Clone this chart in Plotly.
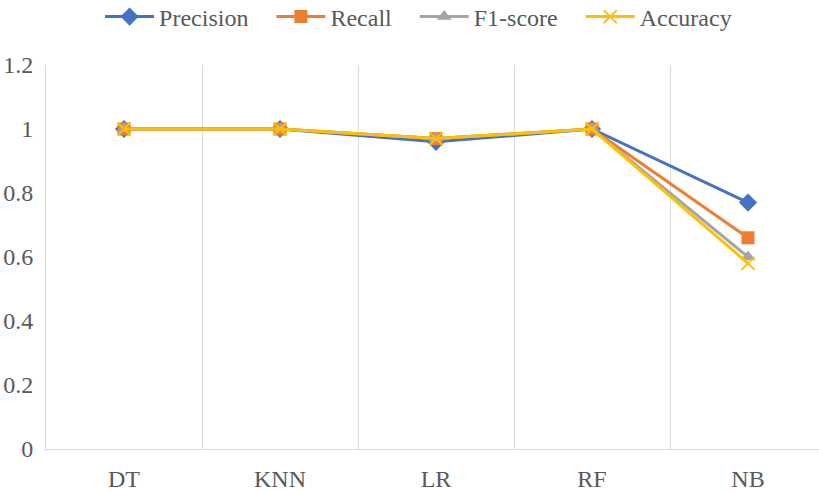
import plotly.graph_objects as go

# Model comparison metrics
models = ["DT", "KNN", "LR", "RF", "NB"]
precision = [1.0, 1.0, 0.96, 1.0, 0.77]
recall = [1.0, 1.0, 0.97, 1.0, 0.66]
f1_score = [1.0, 1.0, 0.97, 1.0, 0.60]
accuracy = [1.0, 1.0, 0.97, 1.0, 0.58]

y_ticks = [0, 0.2, 0.4, 0.6, 0.8, 1.0, 1.2]
y_tick_text = ["0", "0.2", "0.4", "0.6", "0.8", "1", "1.2"]

xpos = list(range(len(models)))
font_family = "Liberation Serif, Times New Roman, serif"
text_color = "#595959"
pad = "\u00a0\u00a0\u00a0"  # extra spacing between legend entries

series = [
    ("Precision" + pad, precision, "#4472C4", dict(symbol="diamond", size=14)),
    ("Recall" + pad, recall, "#ED7D31", dict(symbol="square", size=13)),
    ("F1-score" + pad, f1_score, "#A5A5A5", dict(symbol="triangle-up", size=13)),
    ("Accuracy", accuracy, "#FFC000", dict(symbol="x-thin-open", size=13, line=dict(width=2))),
]

fig = go.Figure()
for name, vals, color, mk in series:
    marker = dict(color=color, **mk)
    if "line" in marker:
        marker["line"]["color"] = color
    fig.add_trace(go.Scatter(
        x=xpos, y=vals, name=name, mode="lines+markers",
        line=dict(color=color, width=3),
        marker=marker,
    ))

fig.update_layout(
    width=819, height=491,
    margin=dict(l=46, r=0, t=65, b=42, autoexpand=False),
    paper_bgcolor="white", plot_bgcolor="white",
    font=dict(family=font_family, size=24, color=text_color),
    showlegend=True,
    legend=dict(
        orientation="h", x=0.482, xanchor="center", y=1.125, yanchor="middle",
        font=dict(family=font_family, size=24, color=text_color), itemwidth=49,
        bgcolor="rgba(0,0,0,0)",
    ),
    xaxis=dict(
        range=[-0.5, 4.455], tickvals=xpos, ticktext=models,
        showgrid=False, zeroline=False, ticks="",
        showline=True, linecolor="#D9D9D9", linewidth=1,
        ticklabelstandoff=8,
        tickfont=dict(family=font_family, size=24, color=text_color),
        minor=dict(tickvals=[0.5, 1.5, 2.5, 3.5], showgrid=True,
                   gridcolor="#D9D9D9", gridwidth=1, ticks=""),
    ),
    yaxis=dict(
        range=[0, 1.2], tickvals=y_ticks, ticktext=y_tick_text,
        showgrid=False, zeroline=False, ticks="",
        showline=True, linecolor="#D9D9D9", linewidth=1,
        ticklabelstandoff=7,
        tickfont=dict(family=font_family, size=24, color=text_color),
    ),
)

fig.write_html("out.html")
